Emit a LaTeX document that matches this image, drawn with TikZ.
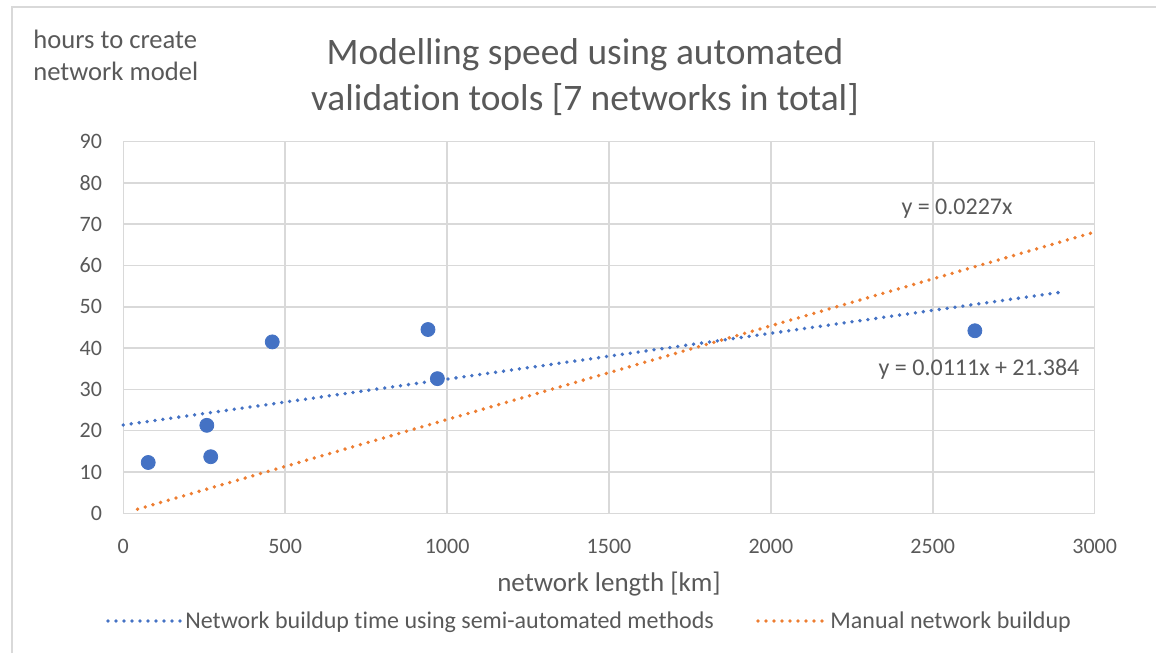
\documentclass[tikz,border=0pt]{standalone}
\usepackage{fontspec}
\setmainfont{Carlito}[Ligatures=NoCommon]
\definecolor{txtgray}{HTML}{595959}
\definecolor{gridgray}{HTML}{D9D9D9}
\definecolor{semiblue}{HTML}{4472C4}
\definecolor{manorange}{HTML}{ED7D31}
\tikzset{
  gridline/.style={draw=gridgray, line width=0.75pt},
  trend/.style={line width=1.9pt, line cap=round, dash pattern=on 0pt off 4pt},
  datapt/.style={circle, fill=semiblue, draw=semiblue, inner sep=0pt, minimum size=7pt},
  ticklbl/.style={text=txtgray, font=\fontsize{11}{13}\selectfont, inner sep=0pt},
  lbl/.style={text=txtgray, font=\fontsize{12}{14}\selectfont, inner sep=0pt}
}
\begin{document}
\begin{tikzpicture}[x=0.5pt, y=0.5pt]
\useasboundingbox (0,0) rectangle (1156,653);
% chart frame
\coordinate (fbl) at (12,0);
\coordinate (ftl) at (12,646);
\coordinate (ftr) at (1156,646);
\draw [draw=gridgray, line width=0.75pt] (fbl) -- (ftl) -- (ftr);
% titles
\node [text=txtgray, font=\fontsize{18.7}{23}\selectfont, align=center] (title) at (585,576)
  {Modelling speed using automated\\validation tools [7 networks in total]};
\node [lbl, align=left, anchor=north west, font=\fontsize{13.3}{16}\selectfont] (ytitle) at (33,623)
  {hours to create\\network model};
\node [lbl, font=\fontsize{13.5}{16}\selectfont] (xtitle) at (609,69) {network length [km]};
% plot area in data units
\begin{scope}[shift={(123.3,139.7)}, x=0.1619pt, y=2.065pt]
\foreach \v in {0,10,...,90} {
  \draw [gridline] (0,\v) -- (3000,\v);
  \node [ticklbl, anchor=east] (yt\v) at ([xshift=-10.5pt]0,\v) {\v};
}
\foreach \h in {0,500,...,3000} {
  \draw [gridline] (\h,0) -- (\h,90);
  \node [ticklbl] (xt\h) at ([yshift=-16.5pt]\h,0) {\h};
}
% trendlines
\coordinate (bstart) at (0,21.384);
\coordinate (bend) at (2911,53.7);
\coordinate (ostart) at (44,1.0);
\coordinate (oend) at (3000,68.1);
\draw [trend, semiblue] (bstart) -- (bend);
\draw [trend, manorange] (ostart) -- (oend);
% data
\node [datapt] (p1) at (77,12.3) {};
\node [datapt] (p2) at (258,21.3) {};
\node [datapt] (p3) at (270,13.7) {};
\node [datapt] (p4) at (460,41.5) {};
\node [datapt] (p5) at (941,44.5) {};
\node [datapt] (p6) at (970,32.6) {};
\node [datapt] (p7) at (2630,44.2) {};
\end{scope}
% equations
\node [lbl] (eqman) at (957,444) {y = 0.0227x};
\node [lbl] (eqsemi) at (979,284) {y = 0.0111x + 21.384};
% legend
\coordinate (lb1) at (108,32);
\coordinate (lb2) at (180,32);
\draw [trend, semiblue] (lb1) -- (lb2);
\node [lbl, anchor=west] (legsemi) at (185,31)
  {Network buildup time using semi-automated methods};
\coordinate (lo1) at (758,32);
\coordinate (lo2) at (825,32);
\draw [trend, manorange] (lo1) -- (lo2);
\node [lbl, anchor=west] (legman) at (830,31)
  {Manual network buildup};
\end{tikzpicture}
\end{document}
